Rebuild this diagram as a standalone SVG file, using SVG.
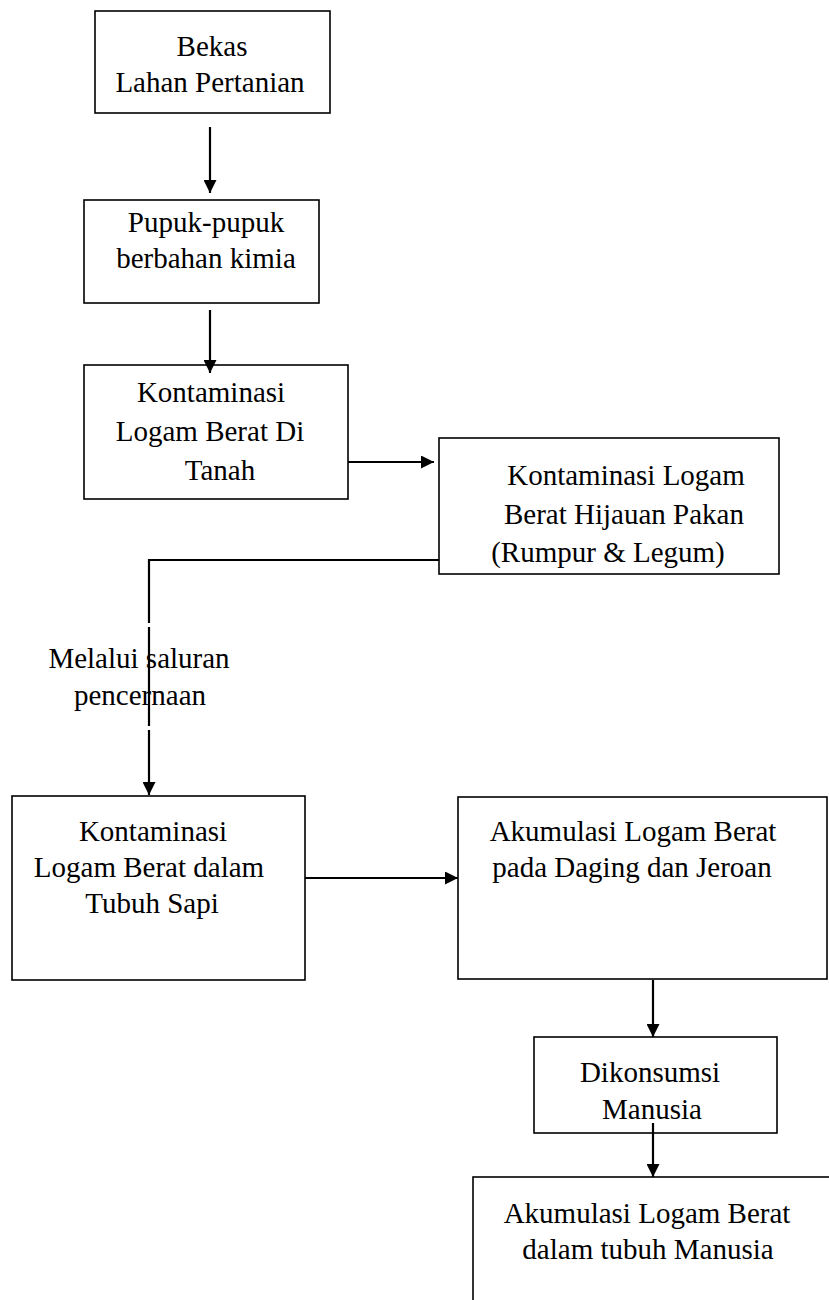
<svg xmlns="http://www.w3.org/2000/svg" width="829" height="1300" viewBox="0 0 829 1300">
<style>
.box{fill:#fff;stroke:#000;stroke-width:1.6}
.t{font-family:'Liberation Serif','Times New Roman','DejaVu Serif',serif;font-size:29px;fill:#000;text-anchor:middle}
.c{fill:none;stroke:#000;stroke-width:2.2}
</style>
<defs>
<marker id="ah" viewBox="0 0 10 10" refX="10" refY="5" markerWidth="14" markerHeight="13" markerUnits="userSpaceOnUse" orient="auto">
<path d="M0,0 L10,5 L0,10 z" fill="#000"/>
</marker>
</defs>
<rect width="829" height="1300" fill="#fff"/>
<g id="n1" font-family="Liberation Serif, serif"><rect class="box" x="95" y="11" width="235" height="102"/>
<text class="t" x="212" y="56">Bekas</text><text class="t" x="210" y="92">Lahan Pertanian</text></g>
<g id="n2" font-family="Liberation Serif, serif"><rect class="box" x="84" y="200" width="235" height="103"/>
<text class="t" x="206" y="232">Pupuk-pupuk</text><text class="t" x="206" y="268">berbahan kimia</text></g>
<g id="n3" font-family="Liberation Serif, serif"><rect class="box" x="84" y="365" width="264" height="134"/>
<text class="t" x="211" y="402">Kontaminasi</text><text class="t" x="210" y="441">Logam Berat Di</text><text class="t" x="220" y="480">Tanah</text></g>
<g id="n4" font-family="Liberation Serif, serif"><rect class="box" x="439" y="438" width="340" height="136"/>
<text class="t" x="626" y="485">Kontaminasi Logam</text><text class="t" x="624" y="524">Berat Hijauan Pakan</text><text class="t" x="608" y="562">(Rumpur &amp; Legum)</text></g>
<g id="n5" font-family="Liberation Serif, serif"><rect class="box" x="12" y="796" width="293" height="184"/>
<text class="t" x="153" y="841">Kontaminasi</text><text class="t" x="149" y="877">Logam Berat dalam</text><text class="t" x="152" y="913">Tubuh Sapi</text></g>
<g id="n6" font-family="Liberation Serif, serif"><rect class="box" x="458" y="797" width="369" height="182"/>
<text class="t" x="633" y="841">Akumulasi Logam Berat</text><text class="t" x="632" y="877">pada Daging dan Jeroan</text></g>
<g id="n7" font-family="Liberation Serif, serif"><rect class="box" x="534" y="1037" width="243" height="96"/>
<text class="t" x="650" y="1082">Dikonsumsi</text><text class="t" x="652" y="1119">Manusia</text></g>
<g id="n8" font-family="Liberation Serif, serif"><rect class="box" x="473" y="1177" width="420" height="200"/>
<text class="t" x="647" y="1223">Akumulasi Logam Berat</text><text class="t" x="648" y="1259">dalam tubuh Manusia</text></g>
<g id="label" font-family="Liberation Serif, serif"><text class="t" x="139" y="668">Melalui saluran</text><text class="t" x="140" y="705">pencernaan</text></g>
<g id="connectors">
<line class="c" x1="210" y1="127" x2="210" y2="193" marker-end="url(#ah)"/>
<line class="c" x1="210" y1="310" x2="210" y2="373" marker-end="url(#ah)"/>
<line class="c" x1="348" y1="462" x2="434" y2="462" marker-end="url(#ah)"/>
<path class="c" d="M439,560 H149 V623 M149,627 V726 M149,730 V795" marker-end="url(#ah)"/>
<line class="c" x1="305" y1="878" x2="458" y2="878" marker-end="url(#ah)"/>
<line class="c" x1="653" y1="980" x2="653" y2="1037" marker-end="url(#ah)"/>
<line class="c" x1="653" y1="1123" x2="653" y2="1177" marker-end="url(#ah)"/>
</g>
</svg>
